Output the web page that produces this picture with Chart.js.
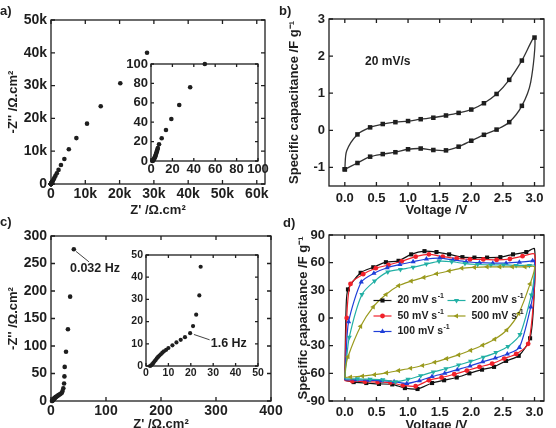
<!DOCTYPE html>
<html>
<head>
<meta charset="utf-8">
<script src="https://cdn.jsdelivr.net/npm/chart.js@4.4.1/dist/chart.umd.min.js"></script>
<style>
  html, body { margin: 0; padding: 0; background: #fff; width: 556px; height: 428px; overflow: hidden; position: relative; }
  canvas { position: absolute; }
  .tag { position: absolute; font: bold 13px "Liberation Sans", Arial, sans-serif; color: #1e1e1e; }
</style>
</head>
<body>
<canvas id="pa"></canvas>
<canvas id="pb"></canvas>
<canvas id="pc"></canvas>
<canvas id="pd"></canvas>
<canvas id="pai"></canvas>
<canvas id="pci"></canvas>
<div class="tag" style="left:0px;top:3px">a)</div>
<div class="tag" style="left:279px;top:3px">b)</div>
<div class="tag" style="left:0px;top:214px">c)</div>
<div class="tag" style="left:283px;top:215px">d)</div>
<script>
const FONT = '"Liberation Sans", Arial, Helvetica, sans-serif';
const INK = '#1e1e1e';

// ---------- a) Nyquist plot, Ω.cm² (the inset zooms into the same points) ----------
const aRe = [1.2, 1.6, 2.0, 2.4, 2.8, 3.2, 3.6, 4.0, 4.4, 4.8, 5.2, 5.6, 6.0, 6.4, 7.5, 10, 14, 19, 26.4, 36.6, 50.3,
  72, 100, 140, 200, 280, 400, 560, 760, 1000, 1300, 1700, 2200, 2900, 3900, 5200, 7400, 10500, 14500, 20200, 28000];
const aIm = [0, 0.2, 0.6, 1.2, 2.0, 2.9, 3.9, 5.0, 6.2, 7.5, 8.9, 10.3, 11.8, 13.3, 17.2, 23.4, 32, 43.3, 57.7, 76, 100,
  135, 190, 270, 390, 560, 780, 1080, 1450, 1900, 2500, 3300, 4300, 5800, 7600, 10600, 14000, 18400, 23700, 30700, 40000];
const aXTicks = [0, 10000, 20000, 30000, 40000, 50000, 60000];
const aYTicks = [0, 10000, 20000, 30000, 40000, 50000];
const aInsetTicks = [0, 20, 40, 60, 80, 100];

// ---------- b) CV loop at 20 mV/s ----------
const bVolt = [0, 0.03, 0.2, 0.4, 0.6, 0.8, 1.0, 1.2, 1.4, 1.6, 1.8, 2.0, 2.2, 2.4, 2.6, 2.8, 3.0,
  2.94, 2.8, 2.6, 2.4, 2.2, 2.0, 1.8, 1.6, 1.4, 1.2, 1.0, 0.8, 0.6, 0.4, 0.2, 0];
const bCap = [-1.05, -0.55, -0.11, 0.08, 0.17, 0.22, 0.25, 0.3, 0.34, 0.4, 0.47, 0.56, 0.73, 0.98, 1.36, 1.88, 2.5,
  1.3, 0.66, 0.22, 0.02, -0.12, -0.28, -0.44, -0.54, -0.53, -0.49, -0.51, -0.59, -0.64, -0.71, -0.88, -1.05];
const bXTicks = [0, 0.5, 1, 1.5, 2, 2.5, 3];
const bYTicks = [-1, 0, 1, 2, 3];

// ---------- c) Nyquist plot, Ω.cm² ----------
const cRe = [1.8, 2.3, 2.8, 3.3, 3.8, 4.3, 4.8, 5.4, 6.0, 6.6, 7.3, 8.0, 9.0, 10, 11.8, 13.6, 15.5, 17.4, 19.7, 21.0,
  22.4, 23.8, 24.4, 24.9, 27.3, 30.8, 34.8, 41.5];
const cIm = [0, 0.3, 0.8, 1.4, 2.1, 2.7, 3.4, 4.1, 4.7, 5.3, 6.0, 6.6, 7.3, 8.1, 9.3, 10.6, 11.8, 13.0, 14.8, 18.0,
  23.1, 31.8, 44.7, 62, 89.5, 130.5, 189.7, 275.8];
const cXTicks = [0, 100, 200, 300, 400];
const cYTicks = [0, 50, 100, 150, 200, 250, 300];
const cInsetTicks = [0, 10, 20, 30, 40, 50];

// ---------- d) CV loops at five scan rates ----------
const dRates = ['20', '50', '100', '200', '500'];
const dV20 = [0, 0.02, 0.05, 0.25, 0.45, 0.65, 0.85, 1.05, 1.26, 1.45, 1.65, 1.86, 2.05, 2.25, 2.46, 2.66, 2.87, 3.0,
  2.99, 2.93, 2.75, 2.55, 2.36, 2.17, 1.97, 1.77, 1.57, 1.38, 1.15, 0.95, 0.75, 0.54, 0.34, 0.14, 0];
const dC20 = [-67, 10, 31, 49, 55, 60.5, 62, 69, 72.5, 71.5, 69, 66, 65.5, 65.5, 66, 69, 71.5, 75,
  20, -22, -41, -46.5, -53, -56, -60, -64.5, -67.5, -70.5, -77, -76, -72, -71.5, -70.5, -69.5, -67.5];
const dV50 = [0, 0.03, 0.09, 0.29, 0.49, 0.69, 0.9, 1.12, 1.33, 1.55, 1.77, 1.98, 2.19, 2.4, 2.61, 2.81, 3.0,
  2.99, 2.9, 2.71, 2.52, 2.33, 2.13, 1.93, 1.73, 1.53, 1.33, 1.12, 0.92, 0.72, 0.52, 0.32, 0.12, 0];
const dC50 = [-68, 0, 37, 47.5, 54, 57.5, 61.5, 66.5, 69, 66.5, 64.5, 63.5, 63.5, 63, 64, 67, 69,
  25, -28, -39, -44, -49.5, -53, -57, -61, -64.5, -67.5, -74, -73, -70, -69.5, -69, -68.5, -68];
const dV100 = [0, 0.02, 0.06, 0.26, 0.46, 0.67, 0.87, 1.08, 1.29, 1.5, 1.71, 1.92, 2.13, 2.34, 2.55, 2.76, 2.97, 3.0,
  2.99, 2.94, 2.76, 2.57, 2.38, 2.18, 1.98, 1.78, 1.58, 1.38, 1.18, 0.98, 0.78, 0.58, 0.38, 0.18, 0];
const dC100 = [-67, -40, -4, 39, 48.5, 54.5, 58, 61, 64, 65, 63, 61, 60, 59.5, 59.5, 60.5, 62, 62.5,
  35, 12, -32, -39, -43.5, -47.5, -52, -56, -60, -63.5, -68, -71, -69, -68, -67.5, -67, -67];
const dV200 = [0, 0.02, 0.07, 0.27, 0.47, 0.68, 0.88, 1.08, 1.29, 1.49, 1.69, 1.9, 2.1, 2.31, 2.51, 2.71, 2.92, 3.0,
  2.99, 2.95, 2.77, 2.58, 2.39, 2.19, 1.99, 1.8, 1.6, 1.4, 1.2, 1.0, 0.8, 0.6, 0.4, 0.2, 0];
const dC200 = [-66, -50, -21, 25.5, 40, 50, 52.7, 55, 58.5, 61.5, 61, 59, 58, 57.5, 57.5, 57, 57, 57,
  42, 25, -18, -31, -37.5, -42.5, -47, -51, -55, -58.5, -62.5, -66.5, -69, -67, -66.5, -66, -66];
const dV500 = [0, 0.01, 0.05, 0.25, 0.45, 0.65, 0.85, 1.05, 1.25, 1.45, 1.65, 1.85, 2.05, 2.25, 2.45, 2.65, 2.85, 3.0,
  2.93, 2.75, 2.56, 2.37, 2.18, 1.99, 1.8, 1.61, 1.42, 1.23, 1.04, 0.85, 0.66, 0.47, 0.28, 0.09, 0];
const dC500 = [-64.5, -55, -42, -9, 12, 25.5, 35, 40, 44, 48, 51, 54, 55, 55.5, 55.5, 55.5, 55.5, 55.5,
  37, 5, -13, -23, -29.5, -35, -40, -44, -48, -51.5, -54.5, -57, -59.5, -61.5, -63, -64, -64.5];
const dXTicks = [0, 0.5, 1, 1.5, 2, 2.5, 3];
const dYTicks = [-90, -60, -30, 0, 30, 60, 90];

const zip = (xs, ys) => xs.map((x, i) => ({ x, y: ys[i] }));

// box drawn around the plot area with inward ticks on all four sides
const framePlugin = {
  id: 'frame',
  beforeDraw(chart, args, o) {
    if (!o.fill) return;
    const a = chart.chartArea, ctx = chart.ctx;
    ctx.save();
    ctx.fillStyle = '#fff';
    ctx.fillRect(a.left, a.top, a.right - a.left, a.bottom - a.top);
    ctx.restore();
  },
  afterDraw(chart, args, o) {
    const { ctx, chartArea: a, scales: { x, y } } = chart;
    const t = o.tick || 4;
    ctx.save();
    ctx.strokeStyle = INK;
    ctx.lineWidth = 1.3;
    ctx.strokeRect(a.left, a.top, a.right - a.left, a.bottom - a.top);
    ctx.beginPath();
    x.ticks.forEach(k => {
      const p = x.getPixelForValue(k.value);
      ctx.moveTo(p, a.bottom); ctx.lineTo(p, a.bottom - t);
      ctx.moveTo(p, a.top); ctx.lineTo(p, a.top + t);
    });
    y.ticks.forEach(k => {
      const p = y.getPixelForValue(k.value);
      ctx.moveTo(a.left, p); ctx.lineTo(a.left + t, p);
      ctx.moveTo(a.right, p); ctx.lineTo(a.right - t, p);
    });
    ctx.stroke();
    ctx.restore();
  }
};

function supText(ctx, x, y, base, sup, size) {
  ctx.font = `bold ${size}px ${FONT}`;
  ctx.fillText(base, x, y);
  const w = ctx.measureText(base).width;
  ctx.font = `bold ${Math.round(size * 0.65)}px ${FONT}`;
  ctx.fillText(sup, x + w + 0.5, y - size * 0.38);
}

// one canvas per panel; box = canvas [left, top, w, h], area = plot box [L, T, R, B] in page px
function panel(id, c) {
  const cv = document.getElementById(id);
  const [bx, by, bw, bh] = c.box;
  const [L, T, R, B] = c.area;
  cv.width = bw; cv.height = bh;
  cv.style.left = bx + 'px'; cv.style.top = by + 'px';
  const tlh = c.titleSize * 1.2;
  const padL = c.yTitle ? c.yTitleX - bx - tlh / 2 : 0;
  const padB = c.xTitle ? by + bh - c.xTitleY - tlh / 2 : 0;
  const yW = L - bx - padL;
  const xH = by + bh - padB - B;
  const tickFont = { family: FONT, size: c.tickSize, weight: 'bold' };
  const titleFont = { family: FONT, size: c.titleSize, weight: 'bold' };
  const axis = (ticks, fmt, pad, title, fit) => ({
    type: 'linear',
    grid: { display: false, drawTicks: false },
    border: { display: false },
    afterBuildTicks: s => { s.ticks = ticks.map(v => ({ value: v })); },
    afterFit: fit,
    ticks: { font: tickFont, color: INK, padding: pad, maxRotation: 0, autoSkip: false, callback: fmt },
    title: { display: !!title, text: title || '', font: titleFont, color: INK, padding: 0 }
  });
  const x = axis(c.xTicks, c.xFmt, c.xPad, c.xTitle, s => { s.height = xH; });
  const y = axis(c.yTicks, c.yFmt, c.yPad, c.yTitle, s => { s.width = yW; });
  Object.assign(x, { min: c.xMin, max: c.xMax });
  Object.assign(y, { min: c.yMin, max: c.yMax });
  return new Chart(cv, {
    type: 'scatter',
    data: { datasets: c.datasets },
    options: {
      responsive: false,
      animation: false,
      events: [],
      layout: { padding: { left: padL, right: bx + bw - R, top: T - by, bottom: padB } },
      plugins: { legend: { display: false }, tooltip: { enabled: false }, frame: { fill: !!c.fill, tick: c.tick || 4 } },
      scales: { x, y }
    },
    plugins: [framePlugin].concat(c.extra ? [{ id: 'extra' + id, afterDraw: c.extra }] : [])
  });
}

const dots = (xs, ys, r) => ({
  data: zip(xs, ys), pointRadius: r, pointBackgroundColor: INK, pointBorderWidth: 0, clip: 4
});
const kFmt = v => (v === 0 ? '0' : v / 1000 + 'k');
const intFmt = v => String(v);
const v1Fmt = v => v.toFixed(1);

// a) main
panel('pa', {
  box: [0, 0, 276, 222], area: [51, 20, 265, 184],
  xMin: 0, xMax: 62400, yMin: 0, yMax: 50000,
  xTicks: aXTicks, yTicks: aYTicks, xFmt: kFmt, yFmt: kFmt,
  tickSize: 14, titleSize: 13, xPad: 2, yPad: 4,
  yTitle: "-Z'' /Ω.cm²", yTitleX: 13, xTitle: "Z' /Ω.cm²", xTitleY: 210,
  datasets: [dots(aRe, aIm, 2.3)]
});
// a) inset
panel('pai', {
  box: [112, 52, 160, 134], area: [151, 64, 258, 161],
  xMin: 0, xMax: 100, yMin: 0, yMax: 100,
  xTicks: aInsetTicks, yTicks: aInsetTicks, xFmt: intFmt, yFmt: intFmt,
  tickSize: 13, titleSize: 13, xPad: 1, yPad: 3, fill: true, tick: 3,
  datasets: [dots(aRe, aIm, 2.3)]
});

// b)
panel('pb', {
  box: [276, 0, 280, 222], area: [329, 19, 544, 186],
  xMin: -0.25, xMax: 3.15, yMin: -1.5, yMax: 3,
  xTicks: bXTicks, yTicks: bYTicks, xFmt: v1Fmt, yFmt: intFmt,
  tickSize: 13, titleSize: 13, xPad: 5, yPad: 4,
  yTitle: 'Specific capacitance /F g⁻¹', yTitleX: 294, xTitle: 'Voltage /V', xTitleY: 210,
  datasets: [{
    data: zip(bVolt, bCap), showLine: true, tension: 0.3, borderColor: '#333', borderWidth: 1.3,
    pointStyle: 'rect', pointBackgroundColor: INK, pointBorderWidth: 0, clip: 6,
    pointRadius: ctx => (Math.abs(ctx.raw.x / 0.2 - Math.round(ctx.raw.x / 0.2)) < 0.02 ? 3.2 : 0)
  }],
  extra: chart => {
    const { ctx, scales: { x, y } } = chart;
    ctx.save();
    ctx.fillStyle = INK; ctx.textBaseline = 'middle';
    ctx.font = `bold 12px ${FONT}`;
    ctx.fillText('20 mV/s', x.getPixelForValue(0.32), y.getPixelForValue(1.85));
    ctx.restore();
  }
});

// c) main
panel('pc', {
  box: [0, 212, 292, 222], area: [51, 236, 271, 401],
  xMin: 0, xMax: 400, yMin: 0, yMax: 300,
  xTicks: cXTicks, yTicks: cYTicks, xFmt: intFmt, yFmt: intFmt,
  tickSize: 14, titleSize: 13, xPad: 2, yPad: 4,
  yTitle: "-Z'' /Ω.cm²", yTitleX: 13, xTitle: "Z' /Ω.cm²", xTitleY: 424,
  datasets: [dots(cRe, cIm, 2.3)],
  extra: chart => {
    const { ctx, scales: { x, y } } = chart;
    ctx.save();
    ctx.strokeStyle = '#444'; ctx.lineWidth = 1;
    ctx.beginPath();
    ctx.moveTo(x.getPixelForValue(45.5), y.getPixelForValue(272));
    ctx.lineTo(x.getPixelForValue(69), y.getPixelForValue(253));
    ctx.stroke();
    ctx.fillStyle = INK; ctx.textBaseline = 'middle';
    ctx.font = `bold 12.5px ${FONT}`;
    ctx.fillText('0.032 Hz', x.getPixelForValue(34.5), y.getPixelForValue(240));
    ctx.restore();
  }
});
// c) inset
panel('pci', {
  box: [120, 245, 152, 140], area: [146, 255, 258, 366],
  xMin: 0, xMax: 50, yMin: 0, yMax: 50,
  xTicks: cInsetTicks, yTicks: cInsetTicks, xFmt: intFmt, yFmt: intFmt,
  tickSize: 10.5, titleSize: 10, xPad: 1, yPad: 3, fill: true, tick: 3,
  datasets: [dots(cRe, cIm, 2.1)],
  extra: chart => {
    const { ctx, scales: { x, y } } = chart;
    ctx.save();
    ctx.strokeStyle = '#444'; ctx.lineWidth = 1;
    ctx.beginPath();
    ctx.moveTo(x.getPixelForValue(21.4), y.getPixelForValue(14.2));
    ctx.lineTo(x.getPixelForValue(28.4), y.getPixelForValue(11.8));
    ctx.stroke();
    ctx.fillStyle = INK; ctx.textBaseline = 'middle';
    ctx.font = `bold 12.5px ${FONT}`;
    ctx.fillText('1.6 Hz', x.getPixelForValue(28.9), y.getPixelForValue(10.2));
    ctx.restore();
  }
});

// d)
const dStyles = [
  { color: '#111111', pointStyle: 'rect', r: 2.9, rot: 0 },
  { color: '#f0202a', pointStyle: 'circle', r: 2.4, rot: 0 },
  { color: '#1f3fd8', pointStyle: 'triangle', r: 3, rot: 0 },
  { color: '#22b0a5', pointStyle: 'triangle', r: 3, rot: 180 },
  { color: '#9a9a1e', pointStyle: 'triangle', r: 3, rot: 270 }
];
const dSeries = [[dV20, dC20], [dV50, dC50], [dV100, dC100], [dV200, dC200], [dV500, dC500]];
const dSets = dSeries.map(([v, c], i) => {
  const s = dStyles[i];
  return {
    data: zip(v, c), showLine: true, tension: 0.25, borderColor: s.color, borderWidth: 1.2,
    pointStyle: s.pointStyle, pointRotation: s.rot, pointBackgroundColor: s.color, pointBorderWidth: 0, clip: 6,
    pointRadius: ctx => (ctx.raw.x < 0.03 || ctx.raw.x > 2.985 ? 0 : s.r)
  };
}).reverse();

panel('pd', {
  box: [276, 212, 280, 222], area: [329, 235, 544, 401],
  xMin: -0.25, xMax: 3.15, yMin: -90, yMax: 90,
  xTicks: dXTicks, yTicks: dYTicks, xFmt: v1Fmt, yFmt: intFmt,
  tickSize: 13, titleSize: 13, xPad: 4, yPad: 4,
  yTitle: 'Specific capacitance /F g⁻¹', yTitleX: 303, xTitle: 'Voltage /V', xTitleY: 425,
  datasets: dSets,
  extra: chart => {
    const { ctx, chartArea: a } = chart;
    ctx.save();
    ctx.textBaseline = 'middle';
    dRates.forEach((rate, i) => {
      const s = dStyles[i];
      const col = i < 3 ? 0 : 1, row = i < 3 ? i : i - 3;
      const x0 = a.left + 44.5 + col * 74, y0 = a.top + 65.5 + row * 15.5;
      ctx.strokeStyle = s.color; ctx.fillStyle = s.color; ctx.lineWidth = 1.2;
      ctx.beginPath(); ctx.moveTo(x0, y0); ctx.lineTo(x0 + 18, y0); ctx.stroke();
      Chart.helpers.drawPoint(ctx, { pointStyle: s.pointStyle, rotation: s.rot, radius: s.r, borderWidth: 0 }, x0 + 9, y0);
      ctx.fillStyle = INK;
      supText(ctx, x0 + 24, y0, rate + ' mV s', '-1', 10.5);
    });
    ctx.restore();
  }
});
</script>
</body>
</html>
